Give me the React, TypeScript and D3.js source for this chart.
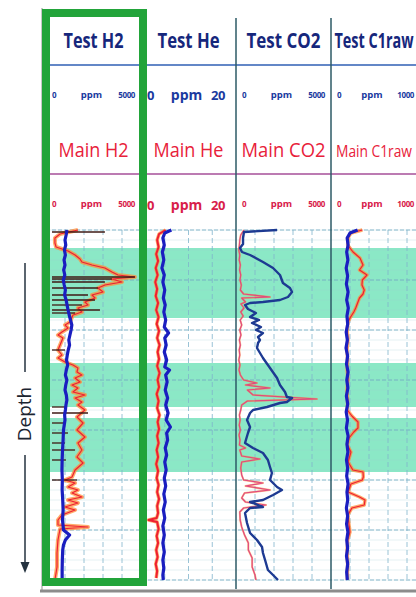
import React from "react";
import * as d3 from "d3";

const W = 416;
const H = 597;

const testNames = ["Test H2", "Test He", "Test CO2", "Test C1raw"];
const mainNames = ["Main H2", "Main He", "Main CO2", "Main C1raw"];
const scaleMax = [5000, 20, 5000, 1000];
const unit = "ppm";

// depth intervals shaded green
const bands: [number, number][] = [[18, 88], [133, 177], [188, 242]];

// [depth, value]
const testH2: [number, number][] = [[0,1100],[5,1060],[10,1000],[15,1040],[20,970],[25,1020],[30,950],[35,1000],[40,930],[45,990],[50,910],[55,960],[60,1020],[65,980],[70,1060],[75,1110],[80,1160],[85,1220],[90,1290],[95,1360],[100,1320],[105,1260],[110,1200],[115,1240],[120,1170],[125,1120],[130,1080],[135,1140],[140,1070],[145,1020],[150,1100],[155,1040],[160,1000],[165,1070],[170,1100],[175,1050],[180,1020],[185,980],[190,1000],[195,960],[200,920],[210,900],[220,870],[230,850],[240,840],[250,860],[260,850],[270,880],[280,900],[290,870],[300,920],[305,1240],[310,1020],[315,920],[320,880],[330,860],[340,850],[350,850]];
const mainH2: [number, number][] = [[0,1680],[4,740],[8,470],[13,470],[17,530],[21,1160],[25,1530],[29,1790],[32,1890],[35,2420],[38,3100],[42,3470],[45,3790],[47,4680],[49,3470],[52,4000],[55,3100],[58,2740],[62,3000],[65,2420],[68,2580],[72,2050],[75,2210],[78,1680],[82,1890],[85,1420],[92,1260],[95,1000],[98,1160],[102,840],[105,630],[108,890],[115,740],[120,630],[125,840],[128,630],[132,1000],[135,1420],[138,1680],[142,1630],[145,1890],[148,1530],[152,1790],[155,1370],[158,1680],[162,1420],[165,2050],[168,1530],[172,1890],[175,1680],[180,2050],[187,1630],[193,1950],[200,1630],[207,2050],[213,1680],[220,1890],[227,1630],[233,1950],[240,1530],[247,1370],[250,1000],[253,1530],[257,1160],[260,1680],[263,1370],[267,1890],[270,1160],[273,1680],[277,1000],[280,1530],[285,840],[290,630],[295,630],[297,2210],[299,740],[310,630],[323,580],[337,580],[350,470]];
const spikesH2: [number, number][] = [[2,3100],[47,4680],[49,3470],[52,3100],[58,2740],[65,2210],[70,2580],[75,1890],[80,2840],[83,1530],[120,1000],[177,1000],[183,2210],[193,1000],[203,1160],[213,1000],[220,1530],[230,1050],[250,1630]];

const testHe: [number, number][] = [[0,6.4],[3,5.0],[8,4.6],[15,4.9],[22,4.5],[30,4.8],[38,4.4],[45,4.9],[52,4.6],[60,5.0],[68,4.7],[75,5.1],[82,4.8],[90,5.2],[97,4.9],[103,5.8],[108,5.0],[115,5.3],[122,4.9],[130,5.4],[137,5.0],[140,6.0],[145,5.2],[152,5.5],[160,5.1],[168,5.6],[175,5.2],[183,5.7],[190,5.3],[197,6.2],[203,5.4],[210,5.6],[218,5.1],[225,5.4],[232,5.0],[240,5.3],[248,4.9],[256,5.2],[264,4.8],[272,5.1],[280,4.7],[288,5.0],[296,4.6],[305,4.9],[313,4.6],[322,4.9],[330,4.6],[338,4.8],[345,4.6],[350,4.7]];
const mainHe: [number, number][] = [[0,5.2],[4,3.8],[10,3.4],[17,3.7],[24,3.2],[31,3.6],[38,3.1],[45,3.5],[52,3.0],[59,3.4],[66,3.1],[73,3.6],[80,3.2],[87,3.7],[94,3.3],[101,3.8],[108,3.4],[115,3.9],[122,3.5],[129,3.8],[136,3.4],[143,3.9],[150,3.5],[157,3.8],[164,3.3],[171,3.7],[178,3.4],[185,3.9],[192,3.5],[199,3.8],[206,3.4],[213,3.7],[220,3.3],[227,3.6],[234,3.2],[241,3.6],[248,3.3],[255,3.7],[262,3.4],[269,3.8],[276,3.4],[283,3.6],[288,3.3],[290,1.6],[292,3.4],[299,3.7],[306,3.3],[313,3.6],[320,3.2],[327,3.5],[334,3.1],[341,3.4],[348,3.2]];

const testCO2: [number, number][] = [[0,2160],[2,420],[8,370],[14,370],[18,210],[22,315],[25,740],[32,1420],[38,1950],[45,2315],[53,2470],[58,2840],[62,2950],[67,2735],[70,2315],[72,1420],[73,740],[75,475],[79,630],[83,1050],[87,740],[90,1210],[93,840],[97,1315],[100,1050],[103,1420],[107,1160],[110,1260],[113,1160],[118,1105],[128,1420],[138,1790],[148,2160],[155,2315],[162,2580],[167,2680],[168,2950],[172,2680],[173,2315],[177,1630],[180,895],[183,740],[190,580],[197,740],[203,630],[213,475],[218,895],[223,1420],[230,1680],[237,1790],[243,1890],[250,1790],[257,2160],[260,2420],[265,1950],[270,1420],[272,740],[273,895],[277,1420],[278,740],[283,475],[293,580],[303,740],[310,1105],[317,1370],[323,1420],[330,1530],[340,1680],[345,1950],[350,2210]];
const mainCO2: [number, number][] = [[0,420],[5,250],[10,200],[15,180],[20,150],[25,200],[30,170],[35,230],[40,190],[45,250],[50,210],[55,280],[60,230],[64,400],[67,1790],[68,300],[72,500],[74,260],[78,420],[82,250],[86,380],[90,220],[95,300],[100,200],[105,260],[110,180],[115,230],[120,170],[125,200],[130,150],[135,210],[140,160],[145,230],[150,400],[153,1100],[155,500],[158,1790],[160,600],[165,900],[169,4260],[171,600],[175,300],[180,250],[185,180],[190,220],[195,170],[200,230],[205,160],[210,210],[215,180],[218,500],[220,200],[226,300],[229,1260],[232,300],[238,250],[245,300],[250,400],[253,1420],[256,500],[260,1790],[263,450],[268,300],[272,500],[275,1580],[278,400],[282,200],[290,220],[297,300],[305,450],[313,650],[320,650],[328,850],[337,850],[345,1000],[350,1050]];

const testC1: [number, number][] = [[0,280],[3,200],[8,170],[15,180],[22,165],[30,178],[38,160],[46,175],[54,162],[62,180],[70,165],[78,182],[86,168],[94,176],[102,160],[110,172],[118,158],[126,175],[134,163],[142,180],[150,166],[158,178],[166,162],[174,176],[182,160],[190,174],[198,162],[206,180],[214,168],[222,178],[230,163],[238,175],[246,165],[254,180],[262,168],[270,176],[278,162],[286,175],[294,164],[302,178],[310,166],[318,175],[326,163],[334,176],[342,165],[350,172]];
const mainC1: [number, number][] = [[0,330],[3,210],[8,180],[15,175],[22,232],[28,305],[35,337],[40,300],[45,379],[50,330],[55,326],[60,350],[64,337],[68,300],[72,284],[78,260],[82,240],[88,200],[92,180],[100,170],[110,178],[120,168],[130,175],[140,170],[150,178],[160,168],[170,175],[180,172],[186,220],[192,284],[198,284],[202,240],[208,190],[215,172],[222,210],[232,180],[240,230],[242,337],[247,340],[250,330],[254,210],[262,180],[267,300],[270,358],[275,350],[278,220],[285,178],[295,190],[302,200],[310,175],[320,170],[335,175],[350,172]];

const testSeries = [testH2, testHe, testCO2, testC1];
const mainSeries = [mainH2, mainHe, mainCO2, mainC1];

const FONT = "'Open Sans', 'Noto Sans', sans-serif";

export default function App() {
  const trackX = d3.scaleLinear().domain([0, 4]).range([46, 426]);
  const y = d3.scaleLinear().domain([0, 350]).range([230, 580]);
  const scales = scaleMax.map((m, i) =>
    d3.scaleLinear().domain([0, m]).range([trackX(i), trackX(i + 1)])
  );
  const lineFor = (sx: d3.ScaleLinear<number, number>) =>
    d3.line<[number, number]>().x((d) => sx(d[1])).y((d) => y(d[0]));

  const left = trackX(0);
  const right = W;
  const majorTicks = y.ticks(7);
  const minorTicks = y.ticks(35);

  // titles are drawn narrowed: width on screen = textLength * SX
  const SX = 0.7;
  const testLen = [60, 62, 74, 79];
  const mainLen = [70, 70, 84, 76];
  const big = (i: number) => i === 1;

  return (
    <svg width={W} height={H} style={{ position: "fixed", left: 0, top: 0, background: "#fff" }}>
      <defs>
        {scales.map((sx, i) => (
          <clipPath id={`clip${i}`} key={i}>
            <rect x={trackX(i)} y={y(0) - 4} width={trackX(i + 1) - trackX(i)} height={y(350) - y(0) + 8} />
          </clipPath>
        ))}
      </defs>

      {/* panel edges */}
      <line x1={42} x2={42} y1={8} y2={591} stroke="#b4b4b4" strokeWidth={1.5} />
      <line x1={40} x2={W} y1={591} y2={591} stroke="#8c8c8c" strokeWidth={3} />

      {/* green zones */}
      {bands.map(([a, b], i) => (
        <rect key={i} x={left} y={y(a)} width={right - left} height={y(b) - y(a)} fill="#8be8c6" />
      ))}

      {/* grid */}
      {minorTicks.map((t) => (
        <line key={"m" + t} x1={left} x2={right} y1={y(t)} y2={y(t)} stroke="#9cc9d6" strokeOpacity={0.45} strokeWidth={0.6} />
      ))}
      {majorTicks.map((t) => (
        <line key={"M" + t} x1={left} x2={right} y1={y(t)} y2={y(t)} stroke="#6ea7c2" strokeWidth={0.8} strokeDasharray="4,2" />
      ))}
      {scales.map((sx, i) =>
        sx.ticks(5).slice(1, -1).map((t) => (
          <line key={i + "v" + t} x1={sx(t)} x2={sx(t)} y1={y(0)} y2={y(350)} stroke="#80b4cc" strokeWidth={0.8} strokeDasharray="5,3" />
        ))
      )}

      {/* header lines */}
      <line x1={50} x2={right} y1={65} y2={65} stroke="#2f5fb4" strokeWidth={1.6} />
      <line x1={50} x2={right} y1={174} y2={174} stroke="#a64f98" strokeWidth={1.4} />

      {/* track separators */}
      {[2, 3].map((i) => (
        <line key={i} x1={trackX(i)} x2={trackX(i)} y1={18} y2={589} stroke="#2d5a66" strokeWidth={1.5} />
      ))}

      {/* headers */}
      {testNames.map((n, i) => {
        const cx = i === 3 ? 374 : (trackX(i) + trackX(i + 1)) / 2;
        const sx = scales[i];
        const x0 = trackX(i) + 6;
        const x1 = i === 3 ? 414 : trackX(i + 1) - (big(i) ? 11 : 6);
        const fs = big(i) ? 13 : 8;
        const ufs = big(i) ? 14 : 9.5;
        return (
          <g key={n} fontFamily={FONT}>
            <text transform={`translate(${cx},48) scale(${SX},1)`} textAnchor="middle" fontSize={21} fontWeight={700} fill="#16277c" textLength={testLen[i] / SX} lengthAdjust="spacingAndGlyphs">{n}</text>
            <text transform={`translate(${cx},157) scale(${SX},1)`} textAnchor="middle" fontSize={i === 3 ? 17 : 20} fill="#e8213a" textLength={mainLen[i] / SX} lengthAdjust="spacingAndGlyphs">{mainNames[i]}</text>
            {[{ yy: big(i) ? 100 : 98, c: "#1a3aa0" }, { yy: big(i) ? 210 : 207, c: "#d8204a" }].map((r, k) => (
              <g key={k} fontWeight={700} fill={r.c}>
                <text x={x0} y={r.yy} fontSize={fs}>{sx.domain()[0]}</text>
                <text x={cx - 2} y={r.yy} textAnchor="middle" fontSize={ufs}>{unit}</text>
                <text x={x1} y={r.yy} textAnchor="end" fontSize={fs} letterSpacing={-0.4}>{scaleMax[i]}</text>
              </g>
            ))}
          </g>
        );
      })}

      {/* curves */}
      {scales.map((sx, i) => {
        const line = lineFor(sx);
        return (
          <g key={"c" + i} clipPath={`url(#clip${i})`} fill="none" strokeLinejoin="round">
            <path d={line(mainSeries[i]) || ""} stroke="#ff8f3a" strokeWidth={i === 0 ? 4 : i === 2 ? 2 : 3.5} strokeOpacity={i === 2 ? 0.6 : 0.75} />
            <path d={line(mainSeries[i]) || ""} stroke={i === 2 ? "#e04a80" : "#ee1f33"} strokeWidth={i === 1 ? 2 : 1.2} />
            {i === 0 &&
              spikesH2.map(([d, v], k) => (
                <line key={k} x1={sx(0) + 6} x2={sx(v)} y1={y(d)} y2={y(d)} stroke="#3e1a14" strokeWidth={1.3} />
              ))}
            <path d={line(testSeries[i]) || ""} stroke={i === 2 ? "#1d3a92" : "#1a1ec0"} strokeWidth={i === 2 ? 2.4 : 3.2} />
          </g>
        );
      })}

      {/* highlight box around first track */}
      <rect x={46} y={13} width={97} height={569} fill="none" stroke="#22a43a" strokeWidth={8} />

      {/* depth arrow */}
      <g stroke="#24323f" strokeWidth={1.5}>
        <line x1={25} x2={25} y1={263} y2={372} />
        <line x1={25} x2={25} y1={455} y2={564} />
      </g>
      <path d="M20.5,562 L29.5,562 L25,573 Z" fill="#24323f" />
      <text x={0} y={0} transform="translate(31,414) rotate(-90)" textAnchor="middle" fontFamily={FONT} fontSize={19} fill="#1b2430">Depth</text>
    </svg>
  );
}
